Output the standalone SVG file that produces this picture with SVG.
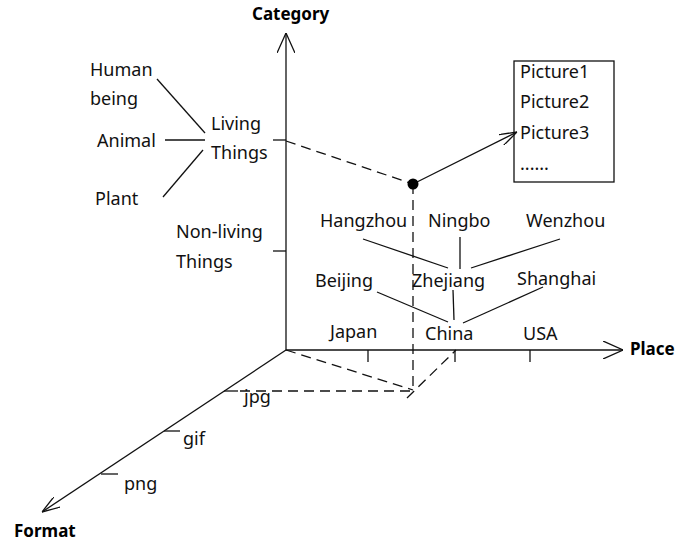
<svg xmlns="http://www.w3.org/2000/svg" width="691" height="541" viewBox="0 0 691 541">
<style>
text{font-family:"Noto Sans","Open Sans","DejaVu Sans",sans-serif;font-size:18px;fill:#111}
.b{font-weight:bold;font-size:17px;fill:#000}
.ln{stroke:#111;stroke-width:1.3;fill:none}
.ds{stroke:#111;stroke-width:1.3;fill:none;stroke-dasharray:10 6}
</style>
<defs>
<marker id="big" viewBox="0 0 20 18" markerWidth="20" markerHeight="18" refX="20" refY="9" orient="auto" markerUnits="userSpaceOnUse">
<path d="M0,0 L20,9 L0,18" fill="none" stroke="#111" stroke-width="1.3"/>
</marker>
<marker id="sm" viewBox="0 0 18 12" markerWidth="18" markerHeight="12" refX="18" refY="6" orient="auto" markerUnits="userSpaceOnUse">
<path d="M0,0 L18,6 L0,12" fill="none" stroke="#111" stroke-width="1.3"/>
</marker>
</defs>
<rect width="691" height="541" fill="#fff"/>
<g id="connectors">
<line class="ln" x1="286" y1="350" x2="286" y2="33" marker-end="url(#big)"/>
<line class="ln" x1="286" y1="350" x2="623" y2="350" marker-end="url(#big)"/>
<line class="ln" x1="286" y1="350" x2="42" y2="512" marker-end="url(#sm)"/>
<line class="ln" x1="273" y1="140" x2="286" y2="140"/>
<line class="ln" x1="273" y1="251" x2="286" y2="251"/>
<line class="ln" x1="368" y1="350" x2="368" y2="362"/>
<line class="ln" x1="455" y1="350" x2="455" y2="362"/>
<line class="ln" x1="530" y1="350" x2="530" y2="362"/>
<line class="ln" x1="224" y1="391" x2="238" y2="391"/>
<line class="ln" x1="164" y1="431" x2="180" y2="431"/>
<line class="ln" x1="101" y1="474" x2="118" y2="474"/>
<line class="ln" x1="157" y1="79" x2="205" y2="133"/>
<line class="ln" x1="165" y1="140" x2="205" y2="140"/>
<line class="ln" x1="163" y1="197" x2="203" y2="150"/>
<line class="ln" x1="363" y1="239" x2="448" y2="268"/>
<line class="ln" x1="460" y1="237" x2="460" y2="269"/>
<line class="ln" x1="560" y1="239" x2="471" y2="268"/>
<line class="ln" x1="377" y1="292" x2="448" y2="322"/>
<line class="ln" x1="453" y1="290" x2="454" y2="320"/>
<line class="ln" x1="543" y1="287" x2="463" y2="323"/>
<line class="ds" x1="286" y1="141" x2="413" y2="184"/>
<line class="ds" x1="413" y1="184" x2="413" y2="391"/>
<line class="ds" x1="240" y1="391" x2="413" y2="391"/>
<line class="ds" x1="286" y1="350" x2="413" y2="390"/>
<line class="ds" x1="407" y1="398" x2="456" y2="350"/>
<line class="ln" x1="413" y1="184" x2="517" y2="132" marker-end="url(#sm)"/>
</g>
<g id="point"><circle cx="413" cy="184" r="5.5" fill="#000"/></g>
<g id="axis-category"><text class="b" x="252" y="20">Category</text></g>
<g id="axis-place"><text class="b" x="630" y="355">Place</text></g>
<g id="axis-format"><text class="b" x="14" y="537">Format</text></g>
<g id="human"><text x="90" y="76">Human</text><text x="90" y="105">being</text></g>
<g id="animal"><text x="97" y="147">Animal</text></g>
<g id="plant"><text x="95" y="205">Plant</text></g>
<g id="living"><text x="211" y="130">Living</text><text x="211" y="159">Things</text></g>
<g id="nonliving"><text x="176" y="238">Non-living</text><text x="176" y="268">Things</text></g>
<g id="hangzhou"><text x="320" y="227">Hangzhou</text></g>
<g id="ningbo"><text x="428" y="227">Ningbo</text></g>
<g id="wenzhou"><text x="526" y="227">Wenzhou</text></g>
<g id="beijing"><text x="315" y="287">Beijing</text></g>
<g id="zhejiang"><text x="412" y="287">Zhejiang</text></g>
<g id="shanghai"><text x="517" y="285">Shanghai</text></g>
<g id="japan"><text x="330" y="338">Japan</text></g>
<g id="china"><text x="425" y="340">China</text></g>
<g id="usa"><text x="523" y="340">USA</text></g>
<g id="jpg"><text x="244" y="403">jpg</text></g>
<g id="gif"><text x="183" y="445">gif</text></g>
<g id="png"><text x="124" y="490">png</text></g>
<g id="pictures">
<rect x="514" y="61" width="100" height="121" fill="none" stroke="#111" stroke-width="1.3"/>
<text x="520" y="78">Picture1</text>
<text x="520" y="108">Picture2</text>
<text x="520" y="139">Picture3</text>
<text x="520" y="170">......</text>
</g>
</svg>
